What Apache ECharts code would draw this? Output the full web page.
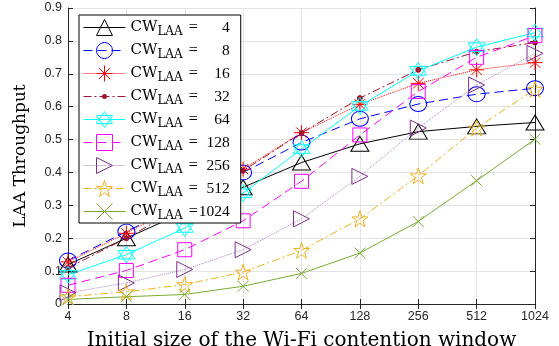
<!DOCTYPE html>
<html>
<head>
<meta charset="utf-8">
<script src="https://cdn.jsdelivr.net/npm/echarts@6/dist/echarts.min.js"></script>
<style>
  html, body { margin: 0; padding: 0; background: #fff; }
  #chart { width: 559px; height: 346px; }
</style>
</head>
<body>
<div id="chart"></div>
<script>
// x categories (initial Wi-Fi CW)
var wifi_cw = ['4', '8', '16', '32', '64', '128', '256', '512', '1024'];
var y_ticks = [0, 0.1, 0.2, 0.3, 0.4, 0.5, 0.6, 0.7, 0.8, 0.9];

// LAA throughput for each CW_LAA
var cw_4 = [0.120, 0.200, 0.280, 0.355, 0.430, 0.487, 0.524, 0.540, 0.552];
var cw_8 = [0.132, 0.220, 0.310, 0.400, 0.491, 0.563, 0.608, 0.638, 0.656];
var cw_16 = [0.128, 0.215, 0.310, 0.410, 0.521, 0.607, 0.671, 0.712, 0.734];
var cw_32 = [0.110, 0.200, 0.300, 0.405, 0.520, 0.626, 0.712, 0.767, 0.795];
var cw_64 = [0.089, 0.150, 0.231, 0.337, 0.471, 0.602, 0.709, 0.781, 0.825];
var cw_128 = [0.057, 0.102, 0.165, 0.253, 0.373, 0.514, 0.646, 0.750, 0.816];
var cw_256 = [0.034, 0.064, 0.105, 0.165, 0.259, 0.388, 0.535, 0.666, 0.762];
var cw_512 = [0.022, 0.037, 0.059, 0.097, 0.163, 0.259, 0.390, 0.535, 0.653];
var cw_1024 = [0.014, 0.022, 0.029, 0.054, 0.093, 0.155, 0.251, 0.375, 0.501];

/* 标记形状 */
var star6 = 'path://M5 0 L9.33 7.5 L0.67 7.5 Z M5 10 L0.67 2.5 L9.33 2.5 Z';
var star5 = 'path://M5 0 L6.12 3.46 L9.76 3.46 L6.81 5.59 L7.94 9.05 L5 6.9 L2.06 9.05 L3.19 5.59 L0.24 3.46 L3.88 3.46 Z';
var aster = 'path://M5 0 L5 10 M0 5 L10 5 M1.5 1.5 L8.5 8.5 M8.5 1.5 L1.5 8.5';
var cross = 'path://M0 0 L10 10 M10 0 L0 10';
var tri_right = 'path://M0 0 L10 5 L0 10 Z';
// 图例里的点划线+小圆点
var dot_legend = 'path://M0 2 L8 2 L8 3 L0 3 Z M11 2 L13 2 L13 3 L11 3 Z M16 2 L18.5 2 L18.5 3 L16 3 Z ' +
    'M23.5 2 L26 2 L26 3 L23.5 3 Z M29 2 L31 2 L31 3 L29 3 Z M34 2 L42 2 L42 3 L34 3 Z ' +
    'M18.5 2.5 A2.5 2.5 0 1 0 23.5 2.5 A2.5 2.5 0 1 0 18.5 2.5 Z';

var dash_dot = [8, 3, 2, 3];

function make_serie(name, data, color, line_type, symbol, size, filled) {
    return {
        name: name,
        type: 'line',
        data: data,
        symbol: symbol,
        symbolSize: size,
        showAllSymbol: true,
        lineStyle: { color: color, width: 1, type: line_type },
        itemStyle: {
            color: filled ? color : 'rgba(0,0,0,0)',
            borderColor: color,
            borderWidth: 1
        },
        emphasis: { disabled: true },
        animation: false
    };
}

var series_list = [
    make_serie('4', cw_4, '#000000', 'solid', 'triangle', [18, 15], false),
    make_serie('8', cw_8, '#0000ff', [9, 5], 'circle', [17, 15], false),
    make_serie('16', cw_16, '#ff0000', 'dotted', aster, 15, false),
    make_serie('32', cw_32, '#a2142f', dash_dot, 'circle', 5, true),
    make_serie('64', cw_64, '#00ffff', 'solid', star6, 17, false),
    make_serie('128', cw_128, '#ff00ff', [9, 5], 'rect', 14, false),
    make_serie('256', cw_256, '#7e2f8e', 'dotted', tri_right, [16, 16], false),
    make_serie('512', cw_512, '#edb120', dash_dot, star5, 16, false),
    make_serie('1024', cw_1024, '#77ac30', 'solid', cross, 11, false)
];
series_list[6].lineStyle.color = '#b07fc0';

var legend_data = [];
for (let i = 0; i < wifi_cw.length; i++) {
    if (wifi_cw[i] == '32') {
        legend_data.push({ name: wifi_cw[i], icon: dot_legend, itemStyle: { borderWidth: 0 } });
    } else {
        legend_data.push({ name: wifi_cw[i] });
    }
}

var serif = '"DejaVu Serif", "Liberation Serif", serif';
var serif2 = '"Liberation Serif", serif';
var sans = '"Liberation Sans", Arial, sans-serif';

var myChart = echarts.init(document.getElementById('chart'), null, { renderer: 'canvas' });
var option = {
    animation: false,
    grid: { left: 68, right: 24, top: 8, bottom: 42, outerBoundsMode: 'none', containLabel: false },
    legend: {
        orient: 'vertical',
        left: 79,
        top: 15,
        padding: [2, 11, 1, 4],
        itemWidth: 42,
        itemHeight: 20,
        itemGap: 2,
        backgroundColor: '#fff',
        borderColor: '#000',
        borderWidth: 1,
        borderRadius: 0,
        symbolKeepAspect: true,
        itemStyle: { borderWidth: 1 },
        lineStyle: { width: 1 },
        data: legend_data,
        formatter: function (name) {
            return '{a|CW}{b|LAA}{c|=}{d|' + name + '}';
        },
        textStyle: {
            rich: {
                a: { fontFamily: serif, fontSize: 15, color: '#000', lineHeight: 20 },
                b: { fontFamily: serif, fontSize: 12, color: '#000', lineHeight: 20, padding: [9, 0, 0, 0] },
                c: { fontFamily: serif2, fontSize: 16, color: '#000', lineHeight: 20, padding: [0, 0, 0, 6] },
                d: { fontFamily: serif2, fontSize: 15.5, color: '#000', lineHeight: 20, width: 32, align: 'right' }
            }
        }
    },
    xAxis: [{
        type: 'category',
        data: wifi_cw,
        boundaryGap: false,
        name: 'Initial size of the Wi-Fi contention window',
        nameLocation: 'middle',
        nameGap: 27,
        nameTextStyle: { fontFamily: serif, fontSize: 20, color: '#000' },
        axisLine: { lineStyle: { color: '#262626', width: 1 } },
        axisTick: { inside: true, length: 5, lineStyle: { color: '#262626' } },
        axisLabel: { fontFamily: sans, fontSize: 12.5, color: '#262626', margin: 6 },
        splitLine: { show: true, lineStyle: { color: '#e3e3e3' } }
    }, {
        type: 'category',
        data: wifi_cw,
        boundaryGap: false,
        position: 'top',
        axisLine: { lineStyle: { color: '#262626', width: 1 } },
        axisTick: { inside: true, length: 5, lineStyle: { color: '#262626' } },
        axisLabel: { show: false },
        splitLine: { show: false }
    }],
    yAxis: [{
        type: 'value',
        min: 0,
        max: 0.9,
        interval: 0.1,
        name: 'LAA Throughput',
        nameLocation: 'middle',
        nameGap: 39,
        nameTextStyle: { fontFamily: serif, fontSize: 17, color: '#000' },
        axisLine: { show: true, lineStyle: { color: '#262626', width: 1 } },
        axisTick: { show: true, inside: true, length: 5, lineStyle: { color: '#262626' } },
        axisLabel: {
            fontFamily: sans, fontSize: 12.5, color: '#262626', margin: 6,
            formatter: function (v) { return String(Math.round(v * 10) / 10); }
        },
        splitLine: { show: true, lineStyle: { color: '#e3e3e3' } }
    }, {
        type: 'value',
        min: 0,
        max: 0.9,
        interval: 0.1,
        position: 'right',
        axisLine: { show: true, lineStyle: { color: '#262626', width: 1 } },
        axisTick: { show: true, inside: true, length: 5, lineStyle: { color: '#262626' } },
        axisLabel: { show: false },
        splitLine: { show: false }
    }],
    series: series_list
};
myChart.setOption(option);
</script>
</body>
</html>
